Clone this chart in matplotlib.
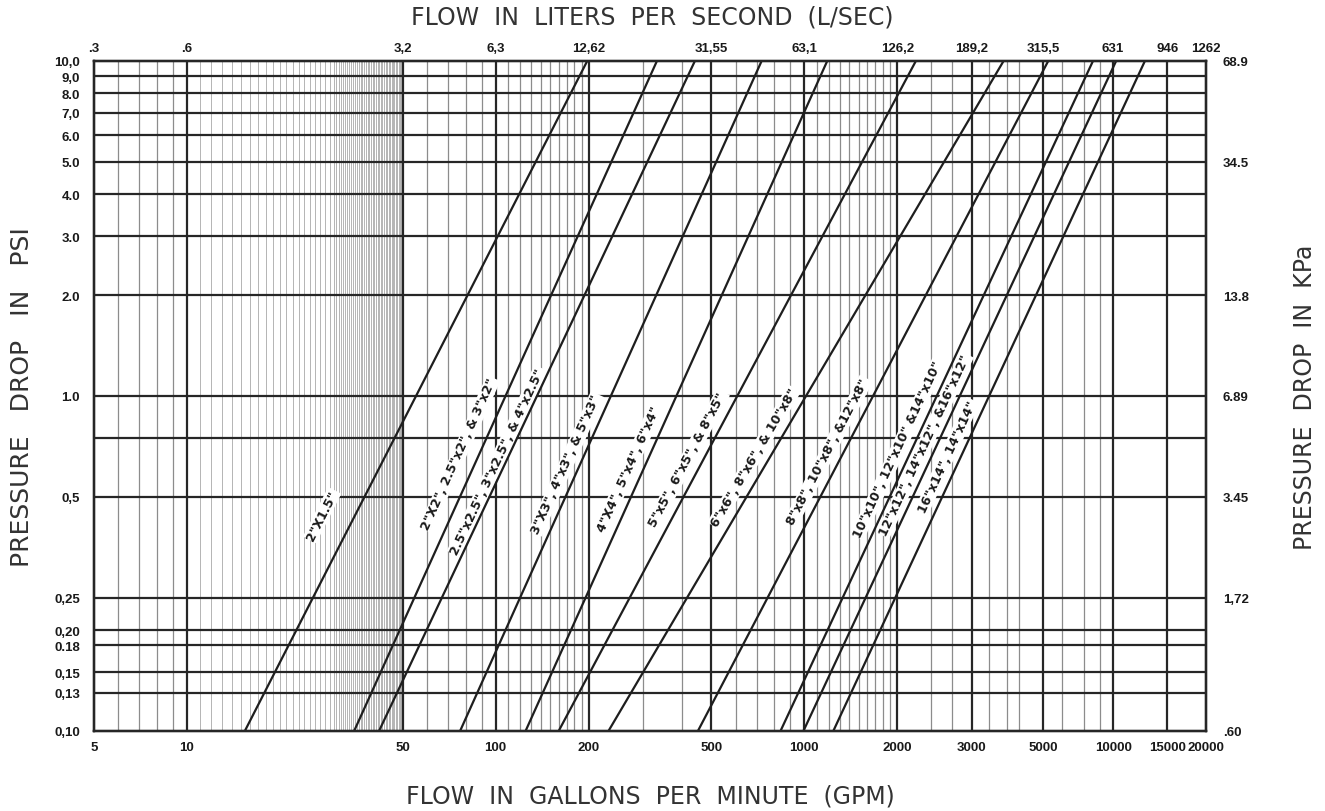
import numpy as np
import matplotlib
matplotlib.use("Agg")
import matplotlib.pyplot as plt
from matplotlib.ticker import FixedLocator, NullLocator

# ---------------- data ----------------
GPM_TICKS = [5, 10, 50, 100, 200, 500, 1000, 2000, 3000, 5000, 10000, 15000, 20000]
GPM_LABELS = ["5", "10", "50", "100", "200", "500", "1000", "2000", "3000",
              "5000", "10000", "15000", "20000"]
LPS_LABELS = [".3", ".6", "3,2", "6,3", "12,62", "31,55", "63,1", "126,2",
              "189,2", "315,5", "631", "946", "1262"]

PSI_TICKS = [10, 9, 8, 7, 6, 5, 4, 3, 2, 1, 0.5, 0.25, 0.20, 0.18, 0.15, 0.13, 0.10]
PSI_LABELS = ["10,0", "9,0", "8.0", "7,0", "6.0", "5.0", "4.0", "3.0", "2.0",
              "1.0", "0,5", "0,25", "0,20", "0.18", "0,15", "0,13", "0,10"]
PSI_GRID = [9, 8, 7, 6, 5, 4, 3, 2, 1, 0.75, 0.5, 0.25, 0.20, 0.18, 0.15, 0.13]

KPA_TICKS = [10, 5, 2, 1, 0.5, 0.25, 0.10]
KPA_LABELS = ["68.9", "34.5", "13.8", "6.89", "3.45", "1,72", ".60"]

GPM_MAJOR_GRID = [10, 50, 100, 200, 500, 1000, 2000, 3000, 5000, 10000, 15000]
GPM_MINOR_GRID = [6, 7, 8, 9, 60, 70, 80, 90,
                  110, 120, 130, 140, 150, 160, 170, 180, 190,
                  300, 400, 600, 700, 800, 900,
                  1100, 1200, 1300, 1400, 1500, 1600, 1700, 1800, 1900,
                  2400, 2700, 3400, 3850, 4200, 6000, 7500, 8750]
GPM_FINE_GRID = list(range(11, 30)) + [v / 2 for v in range(60, 100)]

# flow (GPM) of each pipe size line at 0.10 psi and at 10.0 psi
PIPE_Q_LOW = [15.4, 34.8, 41.9, 76.7, 125, 160, 232, 452, 837, 993, 1241]
PIPE_Q_HIGH = [198, 333, 442, 727, 1186, 2213, 3766, 5250, 8190, 10230, 12680]
PIPE_LABELS = [
    '2"X1.5"',
    '2"X2", 2.5"x2", & 3"x2"',
    '2.5"x2.5", 3"x2.5", & 4"x2.5"',
    '3"X3", 4"x3", & 5"x3"',
    '4"X4", 5"x4", 6"x4"',
    '5"x5", 6"x5", & 8"x5"',
    '6"x6", 8"x6", & 10"x8"',
    '8"x8", 10"x8", &12"x8"',
    '10"x10", 12"x10" &14"x10"',
    '12"x12", 14"x12", &16"x12"',
    '16"x14", 14"x14"',
]
# pressure at the label centre and horizontal gap (px) left of its line
LABEL_PSI = [0.441, 0.671, 0.640, 0.627, 0.605, 0.649, 0.657, 0.685, 0.695, 0.714, 0.662]
LABEL_GAP = [33, 20, 9, 14, 15, 16, 16, 16, 14, 12, 14]

# the drawn flow scale is logarithmic but stretched between 2000 and 10000
X_SCALE_GPM = [1, 2000, 3000, 5000, 10000, 1e6]
X_SCALE_POS = [0.0, np.log10(2000), 3.542, 3.774, 4.0, 6.0]
_LG = np.log10(X_SCALE_GPM)


def fwd(x):
    x = np.clip(np.asarray(x, dtype=float), 1e-9, None)
    return np.interp(np.log10(x), _LG, X_SCALE_POS)


def inv(u):
    return 10 ** np.interp(np.asarray(u, dtype=float), X_SCALE_POS, _LG)


DARK = "#262626"
GRAY = "#8c8c8c"
LIGHT = "#a8a8a8"

TICK_FONT = dict(family=["Liberation Sans", "DejaVu Sans"], weight="bold", size=9.5)
TITLE_FONT = dict(family=["DejaVu Sans"], size=17, color="#333333")

fig = plt.figure(figsize=(13.25, 8.12), dpi=100)
L, R, T, B = 94, 1206, 62, 732
ax = fig.add_axes([L / 1325, 1 - B / 812, (R - L) / 1325, (B - T) / 812])
ax.set_xscale("function", functions=(fwd, inv))
ax.set_yscale("log")
ax.set_xlim(5, 20000)
ax.set_ylim(0.1, 10)

# grid
ax.vlines(GPM_FINE_GRID, 0.1, 10, colors=LIGHT, linewidth=0.6, zorder=1)
ax.vlines(GPM_MINOR_GRID, 0.1, 10, colors=GRAY, linewidth=0.9, zorder=1)
ax.vlines(GPM_MAJOR_GRID, 0.1, 10, colors=DARK, linewidth=1.6, zorder=2)
ax.hlines(PSI_GRID, 5, 20000, colors=DARK, linewidth=1.6, zorder=2)

# pipe lines
for ql, qh in zip(PIPE_Q_LOW, PIPE_Q_HIGH):
    ax.plot([ql, qh], [0.1, 10], color="#1e1e1e", linewidth=1.6, zorder=4,
            solid_capstyle="butt")

# labels along the lines
for ql, qh, txt, p, gap in zip(PIPE_Q_LOW, PIPE_Q_HIGH, PIPE_LABELS, LABEL_PSI, LABEL_GAP):
    x0, y0 = ax.transData.transform((ql, 0.1))
    x1, y1 = ax.transData.transform((qh, 10))
    yd = ax.transData.transform((10, p))[1]
    t = (yd - y0) / (y1 - y0)
    xd = x0 + t * (x1 - x0)
    ang = np.degrees(np.arctan2(y1 - y0, x1 - x0))
    qd, pd = ax.transData.inverted().transform((xd - gap, yd))
    ax.text(qd, pd, txt, rotation=ang, rotation_mode="anchor", ha="center",
            va="center", zorder=3, color="#1a1a1a",
            family=["DejaVu Sans"], weight="bold", size=9,
            bbox=dict(facecolor="white", edgecolor="none", pad=0.6))

# axes ticks
ax.xaxis.set_major_locator(FixedLocator(GPM_TICKS))
ax.set_xticklabels(GPM_LABELS, **TICK_FONT)
ax.xaxis.set_minor_locator(NullLocator())
ax.yaxis.set_major_locator(FixedLocator(PSI_TICKS))
ax.set_yticklabels(PSI_LABELS, **TICK_FONT)
ax.yaxis.set_minor_locator(NullLocator())
ax.tick_params(axis="x", length=0, pad=7, colors="#1a1a1a")
ax.tick_params(axis="y", length=0, pad=10, colors="#1a1a1a")

ax_r = ax.twinx()
ax_r.set_yscale("log")
ax_r.set_ylim(0.1, 10)
ax_r.yaxis.set_major_locator(FixedLocator(KPA_TICKS))
ax_r.set_yticklabels(KPA_LABELS, **TICK_FONT)
ax_r.yaxis.set_minor_locator(NullLocator())
ax_r.tick_params(axis="y", length=0, pad=12, colors="#1a1a1a")

ax_t = ax.twiny()
ax_t.set_xscale("function", functions=(fwd, inv))
ax_t.set_xlim(5, 20000)
ax_t.xaxis.set_major_locator(FixedLocator(GPM_TICKS))
ax_t.set_xticklabels(LPS_LABELS, **TICK_FONT)
ax_t.xaxis.set_minor_locator(NullLocator())
ax_t.tick_params(axis="x", length=0, pad=5, colors="#1a1a1a")

for a in (ax, ax_r, ax_t):
    for s in a.spines.values():
        s.set_linewidth(1.6)
        s.set_color(DARK)
        s.set_zorder(5)

# titles
fig.text(652 / 1325, 1 - 18 / 812, "FLOW  IN  LITERS  PER  SECOND  (L/SEC)",
         ha="center", va="center", **TITLE_FONT)
fig.text(650 / 1325, 1 - 797 / 812, "FLOW  IN  GALLONS  PER  MINUTE  (GPM)",
         ha="center", va="center", **TITLE_FONT)
fig.text(22 / 1325, 1 - 397 / 812, "PRESSURE   DROP   IN   PSI", rotation=90,
         ha="center", va="center", family=["DejaVu Sans"], size=18, color="#333333")
fig.text(1305 / 1325, 1 - 397 / 812, "PRESSURE  DROP  IN  KPa", rotation=90,
         ha="center", va="center", **TITLE_FONT)

fig.savefig("out.png", dpi=100)
